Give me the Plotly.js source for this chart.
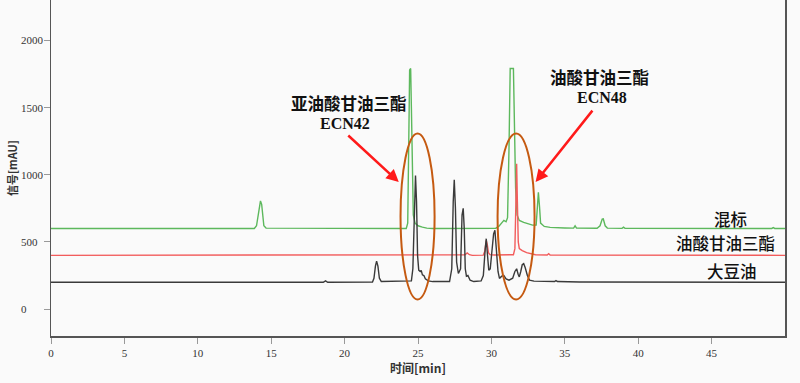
<!DOCTYPE html>
<html>
<head>
<meta charset="utf-8">
<script src="https://cdn.plot.ly/plotly-3.0.1.min.js"></script>
<style>html,body{margin:0;padding:0;background:#fafafa;}#chart{width:800px;height:383px;}</style>
</head>
<body>
<div id="chart"></div>
<script>
// ---- data ----
const seriesNames = ["混标", "油酸甘油三酯", "大豆油"];

const mixTime = [0, 13.85, 14.0, 14.1, 14.2, 14.27, 14.35, 14.42, 14.5, 14.65, 24.2, 24.3, 24.36, 24.4, 24.43, 24.5, 24.55, 24.6, 24.68, 24.8, 25.0, 25.3, 25.6, 26.0, 30.3, 30.5, 30.7, 30.85, 31.0, 31.1, 31.2, 31.28, 31.5, 31.58, 31.65, 31.75, 31.9, 32.2, 32.5, 32.8, 33.05, 33.12, 33.2, 33.28, 33.35, 33.6, 34.0, 35.0, 35.6, 35.7, 35.8, 37.2, 37.4, 37.55, 37.62, 37.75, 37.9, 38.9, 39.0, 39.1, 49.1, 49.2, 49.3, 50];
const mixSignal = [600, 600, 620, 700, 790, 805, 780, 690, 620, 603, 600, 640, 1000, 1500, 1780, 1790, 1500, 1000, 700, 640, 620, 610, 603, 600, 602, 615, 645, 660, 650, 680, 1200, 1790, 1790, 1400, 900, 700, 660, 645, 635, 625, 625, 750, 870, 760, 640, 615, 608, 604, 603, 620, 603, 602, 620, 670, 672, 620, 603, 601, 610, 601, 600, 606, 600, 600];

const oleinTime = [0, 27.9, 28.2, 28.35, 28.5, 28.7, 29.45, 29.55, 29.65, 29.72, 29.8, 29.9, 30.2, 31.5, 31.6, 31.67, 31.72, 31.77, 31.83, 31.9, 32.1, 32.4, 32.7, 33.0, 33.8, 33.9, 34.0, 50];
const oleinSignal = [400, 400, 405, 418, 405, 400, 402, 430, 511, 480, 420, 405, 403, 405, 450, 800, 1082, 800, 500, 450, 435, 420, 410, 405, 403, 412, 403, 400];

const soyTime = [0, 18.55, 18.7, 18.85, 21.9, 22.0, 22.1, 22.18, 22.27, 22.37, 22.5, 24.55, 24.65, 24.75, 24.83, 24.9, 24.97, 25.05, 25.15, 25.22, 25.3, 25.4, 25.5, 25.7, 26.0, 27.15, 27.3, 27.4, 27.47, 27.55, 27.63, 27.75, 27.9, 28.0, 28.08, 28.15, 28.22, 28.3, 28.4, 28.55, 28.8, 29.3, 29.45, 29.58, 29.65, 29.72, 29.82, 29.92, 30.05, 30.15, 30.24, 30.32, 30.45, 30.55, 30.7, 30.85, 31.0, 31.2, 31.45, 31.6, 31.72, 31.82, 31.9, 32.0, 32.1, 32.2, 32.3, 32.45, 32.6, 32.9, 33.5, 34.3, 34.4, 34.5, 36.0, 50];
const soySignal = [200, 200, 210, 200, 202, 230, 320, 357, 320, 230, 205, 210, 300, 800, 994, 800, 400, 290, 280, 288, 255, 250, 225, 210, 205, 205, 300, 800, 963, 750, 350, 265, 300, 700, 750, 600, 300, 245, 250, 215, 205, 210, 250, 450, 524, 420, 290, 300, 450, 560, 586, 480, 280, 228, 245, 250, 225, 215, 230, 280, 300, 260, 240, 280, 330, 338, 310, 250, 215, 208, 205, 205, 212, 205, 202, 200];

const xTickVals = [0, 5, 10, 15, 20, 25, 30, 35, 40, 45];
const yTickVals = [0, 500, 1000, 1500, 2000];

// ---- chart ----
const serif = "Liberation Serif, Times New Roman, serif";
const cjk = "Noto Sans CJK SC, sans-serif";

const traces = [
  {x: mixTime, y: mixSignal, name: seriesNames[0], mode: "lines", line: {color: "#5cb85c", width: 1.4}},
  {x: oleinTime, y: oleinSignal, name: seriesNames[1], mode: "lines", line: {color: "#f25c5c", width: 1.4}},
  {x: soyTime, y: soySignal, name: seriesNames[2], mode: "lines", line: {color: "#3a3a3a", width: 1.4}}
];

const annotations = [];
yTickVals.forEach(v => annotations.push({
  xref: "paper", x: -0.0435, yref: "y", y: v, xanchor: "left", yanchor: "middle",
  text: String(v), showarrow: false, font: {family: serif, size: 11, color: "#333"}
}));
annotations.push({
  xref: "paper", x: -0.053, yref: "paper", y: 0.5, xanchor: "center", yanchor: "middle",
  textangle: -90, text: "<b>信号[mAU]</b>", showarrow: false, font: {family: cjk, size: 11, color: "#333"}
});
// series labels
const labelFont = {family: cjk, size: 16.5, color: "#111", weight: 500};
annotations.push({x: 46.27, y: 673, text: seriesNames[0], showarrow: false, font: labelFont});
annotations.push({x: 45.97, y: 491, text: seriesNames[1], showarrow: false, font: labelFont});
annotations.push({x: 46.37, y: 280, text: seriesNames[2], showarrow: false, font: labelFont});
// callouts
annotations.push({x: 20.31, y: 1534, text: "<b>亚油酸甘油三酯</b>", showarrow: false, font: {family: cjk, size: 16.5, color: "#111"}});
annotations.push({x: 20.06, y: 1384, text: "<b>ECN42</b>", showarrow: false, font: {family: serif, size: 16, color: "#111"}});
annotations.push({x: 37.34, y: 1726, text: "<b>油酸甘油三酯</b>", showarrow: false, font: {family: cjk, size: 16.5, color: "#111"}});
annotations.push({x: 37.51, y: 1577, text: "<b>ECN48</b>", showarrow: false, font: {family: serif, size: 16, color: "#111"}});
// arrows
annotations.push({x: 23.69, y: 945, ax: -52, ay: -48, text: "", showarrow: true, arrowhead: 2, arrowsize: 1, arrowwidth: 2.5, arrowcolor: "#ff1a1a", standoff: 0});
annotations.push({x: 33.01, y: 945, ax: 58, ay: -73, text: "", showarrow: true, arrowhead: 2, arrowsize: 1, arrowwidth: 2.5, arrowcolor: "#ff1a1a", standoff: 0});

const shapes = [
  {type: "circle", xref: "x", yref: "y", x0: 23.81, x1: 26.13, y0: 72, y1: 1307, line: {color: "#c55a11", width: 2}},
  {type: "circle", xref: "x", yref: "y", x0: 30.42, x1: 32.94, y0: 72, y1: 1307, line: {color: "#c55a11", width: 2}}
];

const layout = {
  width: 800, height: 383,
  margin: {l: 51, r: 15, t: 0, b: 47},
  paper_bgcolor: "#fafafa", plot_bgcolor: "#fafafa",
  showlegend: false,
  xaxis: {
    range: [0, 50], tickvals: xTickVals, ticks: "outside", ticklen: 6, tickcolor: "#999",
    showline: true, linecolor: "#555", linewidth: 1.5, showgrid: false, zeroline: false,
    tickfont: {family: serif, size: 11, color: "#333"},
    title: {text: "<b>时间[min]</b>", font: {family: cjk, size: 12, color: "#333"}, standoff: 6}
  },
  yaxis: {
    range: [-200, 2300], tickvals: yTickVals, ticks: "outside", ticklen: 6, tickcolor: "#999",
    showticklabels: false, showline: true, mirror: true, linecolor: "#555", linewidth: 1.5,
    showgrid: false, zeroline: false
  },
  annotations: annotations,
  shapes: shapes
};

Plotly.newPlot("chart", traces, layout, {displayModeBar: false, staticPlot: true});
</script>
</body>
</html>
